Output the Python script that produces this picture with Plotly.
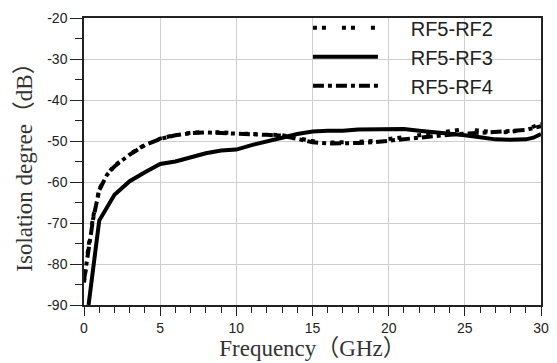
import plotly.graph_objects as go

# RF5-RF2 (dotted)
f_rf2 = [0.0, 0.3, 0.6, 1.0, 1.5, 2.0, 3.0, 4.0, 5.0, 6.0, 7.0, 8.0, 9.0, 10.0, 11.0, 12.0, 13.0,
         14.0, 15.0, 16.0, 17.0, 18.0, 19.0, 20.0, 21.0, 22.0, 23.0, 24.0, 25.0, 26.0, 27.0, 28.0, 29.0, 30.0]
db_rf2 = [-84.5, -75.5, -68.5, -61.8, -58.2, -56.0, -53.2, -50.9, -49.4, -48.5, -48.0, -47.8, -47.9, -48.2,
          -48.3, -48.4, -48.6, -49.3, -50.0, -50.4, -50.4, -50.2, -50.0, -49.6, -49.1, -48.6, -48.1, -47.6,
          -47.1, -47.5, -47.9, -47.8, -47.2, -45.8]

# RF5-RF3 (solid)
f_rf3 = [0.3, 1.0, 2.0, 3.0, 4.0, 5.0, 6.0, 7.0, 8.0, 9.0, 10.0, 11.0, 12.0, 13.0, 14.0, 15.0, 16.0,
         17.0, 18.0, 19.0, 20.0, 21.0, 22.0, 23.0, 24.0, 25.0, 26.0, 27.0, 28.0, 29.0, 29.5, 30.0]
db_rf3 = [-90.0, -69.4, -63.1, -59.8, -57.6, -55.6, -55.0, -54.0, -53.0, -52.3, -52.1, -51.0, -50.0,
          -49.2, -48.3, -47.7, -47.5, -47.5, -47.2, -47.1, -47.0, -47.1, -47.5, -47.8, -48.1, -48.6,
          -49.1, -49.6, -49.7, -49.6, -49.2, -48.3]

# RF5-RF4 (dash-dot)
f_rf4 = [0.0, 0.3, 0.6, 1.0, 1.5, 2.0, 3.0, 4.0, 5.0, 6.0, 7.0, 8.0, 9.0, 10.0, 11.0, 12.0, 13.0,
         14.0, 15.0, 16.0, 17.0, 18.0, 19.0, 20.0, 21.0, 22.0, 23.0, 24.0, 25.0, 26.0, 27.0, 28.0, 29.0, 30.0]
db_rf4 = [-84.0, -76.0, -69.0, -62.0, -58.3, -56.2, -53.3, -51.0, -49.5, -48.6, -48.1, -47.9, -48.0, -48.3,
          -48.4, -48.5, -48.7, -49.6, -50.3, -50.6, -50.6, -50.5, -50.3, -50.0, -49.6, -49.2, -48.8, -48.4,
          -48.2, -48.0, -47.8, -47.6, -47.3, -46.4]

series_names = ["RF5-RF2", "RF5-RF3", "RF5-RF4"]
x_ticks = [0, 5, 10, 15, 20, 25, 30]
y_ticks = [-90, -80, -70, -60, -50, -40, -30, -20]

pad = "\u00a0" * 5
fig = go.Figure()
fig.add_trace(go.Scatter(x=f_rf2, y=db_rf2, mode="lines", name=pad + series_names[0],
                         line=dict(color="black", width=4, dash="4px,5px,4px,16px")))
fig.add_trace(go.Scatter(x=f_rf3, y=db_rf3, mode="lines", name=pad + series_names[1],
                         line=dict(color="black", width=4)))
fig.add_trace(go.Scatter(x=f_rf4, y=db_rf4, mode="lines", name=pad + series_names[2],
                         line=dict(color="black", width=4, dash="11px,4px,4px,4px")))

title_font = dict(family="Liberation Serif, Noto Sans CJK SC", size=23, color="#333")
tick_font = dict(family="Liberation Sans, Arial", size=14, color="#222")

fig.update_layout(
    width=557, height=363,
    margin=dict(l=84, r=8, t=16, b=53),
    paper_bgcolor="white", plot_bgcolor="white",
    showlegend=True,
    legend=dict(x=0.49, y=1.034, xanchor="left", yanchor="top",
                font=dict(family="Liberation Sans, Arial", size=20, color="#222"),
                bgcolor="rgba(0,0,0,0)", itemwidth=65, tracegroupgap=0),
    xaxis=dict(range=[0, 30], tickvals=x_ticks, ticktext=[str(v) for v in x_ticks],
               showgrid=True, gridcolor="#cfcfcf", gridwidth=1,
               showline=True, linecolor="#222", linewidth=1.5, mirror=True,
               ticks="outside", ticklen=9, tickwidth=1, tickcolor="#222",
               minor=dict(dtick=1, ticks="outside", ticklen=6, tickcolor="#222", showgrid=False),
               tickfont=tick_font, zeroline=False,
               title=dict(text="Frequency（GHz）", font=title_font, standoff=3)),
    yaxis=dict(range=[-90, -20], tickvals=y_ticks, ticktext=[str(v) for v in y_ticks],
               showgrid=True, gridcolor="#cfcfcf", gridwidth=1,
               showline=True, linecolor="#222", linewidth=1.5, mirror=True,
               ticks="outside", ticklen=12, tickwidth=1, tickcolor="#222",
               minor=dict(dtick=5, ticks="outside", ticklen=7, tickcolor="#222", showgrid=False),
               tickfont=tick_font, zeroline=False,
               title=dict(text="Isolation degree（dB）", font=title_font, standoff=8)),
)

fig.write_html("out.html")
